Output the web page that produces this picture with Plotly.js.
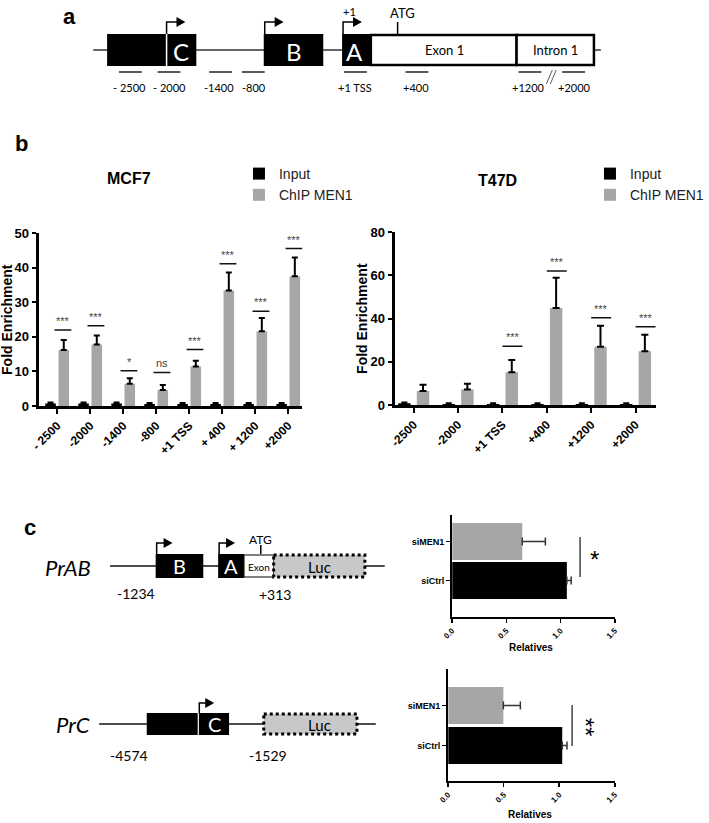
<!DOCTYPE html>
<html>
<head>
<meta charset="utf-8">
<script src="https://cdn.plot.ly/plotly-3.0.1.min.js"></script>
<style>
html,body{margin:0;padding:0;background:#fff;}
#chart{width:709px;height:823px;}
</style>
</head>
<body>
<div id="chart"></div>
<script>
// ---------- DATA ----------
const mcfCats = ['- 2500', '-2000', '-1400', '-800', '+1 TSS', '+ 400', '+ 1200', '+2000'];
const mcfInput = [0.7, 0.7, 0.7, 0.6, 0.6, 0.6, 0.6, 0.6];
const mcfInputErr = [0.3, 0.3, 0.3, 0.3, 0.3, 0.3, 0.3, 0.3];
const mcfChip = [16.2, 17.8, 6.4, 4.6, 11.4, 33.4, 21.6, 37.5];
const mcfChipErr = [2.9, 2.6, 1.6, 1.5, 1.7, 5.2, 3.8, 5.4];
const mcfSig = ['***', '***', '*', 'ns', '***', '***', '***', '***'];
const mcfSigY = [22.0, 23.2, 10.2, 9.7, 16.3, 41.1, 27.4, 45.5];

const t47Cats = ['-2500', '-2000', '+1 TSS', '+400', '+1200', '+2000'];
const t47Input = [0.8, 0.5, 0.5, 0.5, 0.5, 0.5];
const t47InputErr = [0.4, 0.3, 0.3, 0.3, 0.3, 0.3];
const t47Chip = [6.5, 7.2, 15.2, 44.9, 26.9, 24.9];
const t47ChipErr = [2.9, 2.6, 5.6, 14.0, 9.7, 7.6];
const t47Sig = ['', '', '***', '***', '***', '***'];
const t47SigY = [null, null, 27.2, 62.0, 40.3, 36.2];

const relCats = ['siCtrl', 'siMEN1'];
const prabVals = [1.058, 0.647];
const prabErr = [0.040, 0.213];
const prcVals = [1.027, 0.497];
const prcErr = [0.043, 0.153];

const posLabels = ['- 2500', '- 2000', '-1400', '-800', '+1 TSS', '+400', '+1200', '+2000'];

// ---------- HELPERS ----------
const W = 709, H = 823;
const fx = p => p / W;
const fy = p => 1 - p / H;
const GRAY = '#a6a6a6';
const ARIAL = 'Liberation Sans, Arial, sans-serif';
const CAL = 'Lato, Open Sans, sans-serif';

const traces = [];
// MCF7
traces.push({type:'bar', name:'Input', x:mcfCats, y:mcfInput, xaxis:'x', yaxis:'y',
  marker:{color:'#000', line:{width:0}}, width:0.32, offset:-0.36, legend:'legend',
  error_y:{type:'data', array:mcfInputErr, color:'#000', thickness:2, width:3}});
traces.push({type:'bar', name:'ChIP MEN1', x:mcfCats, y:mcfChip, xaxis:'x', yaxis:'y',
  marker:{color:GRAY, line:{width:0}}, width:0.32, offset:0.04, legend:'legend',
  error_y:{type:'data', symmetric:false, array:mcfChipErr, arrayminus:mcfChip.map(()=>0), color:'#000', thickness:2, width:3}});
// T47D
traces.push({type:'bar', name:'Input', x:t47Cats, y:t47Input, xaxis:'x2', yaxis:'y2',
  marker:{color:'#000', line:{width:0}}, width:0.28, offset:-0.35, legend:'legend2',
  error_y:{type:'data', array:t47InputErr, color:'#000', thickness:2, width:3}});
traces.push({type:'bar', name:'ChIP MEN1', x:t47Cats, y:t47Chip, xaxis:'x2', yaxis:'y2',
  marker:{color:GRAY, line:{width:0}}, width:0.28, offset:0.07, legend:'legend2',
  error_y:{type:'data', symmetric:false, array:t47ChipErr, arrayminus:t47Chip.map(()=>0), color:'#000', thickness:2, width:3.5}});
// PrAB luciferase
traces.push({type:'bar', orientation:'h', x:prabVals, y:relCats, xaxis:'x3', yaxis:'y3', showlegend:false,
  marker:{color:['#000', GRAY], line:{width:0}}, width:0.95,
  error_x:{type:'data', symmetric:false, array:prabErr, arrayminus:[0,0], color:'#333', thickness:1.5, width:4}});
// PrC luciferase
traces.push({type:'bar', orientation:'h', x:prcVals, y:relCats, xaxis:'x4', yaxis:'y4', showlegend:false,
  marker:{color:['#000', GRAY], line:{width:0}}, width:0.925,
  error_x:{type:'data', symmetric:false, array:prcErr, arrayminus:[0,0], color:'#333', thickness:1.5, width:4}});
// overlay (pixel) axes for schematic drawings
traces.push({type:'scatter', x:[], y:[], xaxis:'x5', yaxis:'y5', showlegend:false, hoverinfo:'skip'});

const shapes = [];
const annotations = [];

// significance bars
mcfSig.forEach((s, i) => {
  if (!s) return;
  shapes.push({type:'line', xref:'x', yref:'y', x0:i-0.08, x1:i+0.43, y0:mcfSigY[i], y1:mcfSigY[i], line:{color:'#111', width:1.5}});
  annotations.push({xref:'x', yref:'y', x:i+0.18, y:mcfSigY[i], text:s, showarrow:false, yanchor:'bottom', yshift:1,
    font:{family:ARIAL, size:s === 'ns' ? 11 : 11, color:'#444'}});
});
t47Sig.forEach((s, i) => {
  if (!s) return;
  shapes.push({type:'line', xref:'x2', yref:'y2', x0:i+0.0, x1:i+0.45, y0:t47SigY[i], y1:t47SigY[i], line:{color:'#111', width:1.5}});
  annotations.push({xref:'x2', yref:'y2', x:i+0.23, y:t47SigY[i], text:s, showarrow:false, yanchor:'bottom', yshift:1,
    font:{family:ARIAL, size:11, color:'#444'}});
});

// luciferase significance
shapes.push({type:'line', xref:'x3', yref:'y3', x0:1.18, x1:1.18, y0:0.09, y1:1.115, line:{color:'#444', width:1.5}});
annotations.push({xref:'x3', yref:'y3', x:1.31, y:0.55, text:'*', showarrow:false, font:{family:ARIAL, size:24, color:'#000'}});
shapes.push({type:'line', xref:'x4', yref:'y4', x0:1.116, x1:1.116, y0:-0.0125, y1:1.0125, line:{color:'#444', width:1.5}});
annotations.push({xref:'x4', yref:'y4', x:1.24, y:0.45, text:'**', textangle:90, showarrow:false, font:{family:ARIAL, size:24, color:'#000'}});

// ---------- SCHEMATICS (pixel overlay axis) ----------
const P = (o) => Object.assign({xref:'x5', yref:'y5', layer:'above'}, o);
const rect = (x0, x1, y0, y1, fill, line) => shapes.push(P({type:'rect', x0, x1, y0, y1, fillcolor:fill, line:line || {width:0}}));
const seg = (x0, y0, x1, y1, color, w) => shapes.push(P({type:'line', x0, y0, x1, y1, line:{color, width:w}}));
const txt = (x, y, text, size, color, extra) => annotations.push(Object.assign({xref:'x5', yref:'y5', x, y, text, showarrow:false,
  font:{family:CAL, size, color:color || '#000'}}, extra || {}));
const arrow = (x, yb, yt, len) => {
  shapes.push(P({type:'path', path:`M${x},${yb} V${yt} H${x+len}`, line:{color:'#000', width:1.5}}));
  shapes.push(P({type:'path', path:`M${x+len-1},${yt-5} L${x+len+8},${yt} L${x+len-1},${yt+5} Z`, fillcolor:'#000', line:{width:0}}));
};

// panel a
seg(94, 50, 606, 50, '#333', 1.5);
rect(108, 198, 34, 66, '#000');
seg(168, 34, 168, 66, '#fff', 1.5);
rect(266, 326, 34, 66, '#000');
rect(345, 374, 34, 66, '#000');
rect(374, 521, 35, 65, '#fff', {color:'#000', width:2.5});
rect(521, 599, 35, 65, '#fff', {color:'#000', width:2.5});
arrow(168, 34, 22, 11);
arrow(267, 34, 22, 11);
arrow(346, 34, 22, 11);
seg(401, 22, 401, 34, '#000', 1.5);
txt(352, 11, '+1', 11);
txt(406, 13, 'ATG', 13);
txt(183, 51, 'C', 24, '#fff');
txt(296, 51, 'B', 24, '#fff');
txt(358, 51, 'A', 24, '#fff');
txt(448, 50, 'Exon 1', 13);
txt(560, 50, 'Intron 1', 13);
const segX = [[120,143],[159,182],[211,234],[244,267],[347,370],[409,432],[523,546],[567,590]];
const labX = [131, 171, 221, 256, 358, 420, 533, 579];
segX.forEach((s, i) => { seg(s[0], 72, s[1], 72, '#222', 1.5); txt(labX[i], 87, posLabels[i], 11); });
seg(551, 84, 557, 70, '#333', 0.8);
seg(555, 84, 561, 70, '#333', 0.8);
txt(70, 16, 'a', 22, '#000', {font:{family:ARIAL, size:22, color:'#000', weight:'bold'}});
txt(22, 143, 'b', 22, '#000', {font:{family:ARIAL, size:22, color:'#000', weight:'bold'}});
txt(30, 527, 'c', 22, '#000', {font:{family:ARIAL, size:22, color:'#000', weight:'bold'}});

// panel c, PrAB
seg(111, 566, 388, 566, '#111', 1.5);
rect(157, 205, 554, 578, '#000');
rect(220, 246, 554, 578, '#000');
rect(246, 276, 555, 577, '#fff', {color:'#000', width:1.2});
rect(276, 368, 555, 577, '#c8c8c8', {color:'#000', width:3, dash:'dot'});
arrow(158, 554, 543, 8);
arrow(221, 554, 543, 8);
seg(263, 545, 263, 554, '#000', 1.5);
txt(263, 539, 'ATG', 12);
txt(181, 566, 'B', 20, '#fff');
txt(233, 566, 'A', 20, '#fff');
txt(261, 567, 'Exon', 10);
txt(322, 567, 'Luc', 15);
txt(137, 593, '-1234', 14);
txt(277, 594, '+313', 14);
txt(69, 567, '<i>PrAB</i>', 22);

// panel c, PrC
seg(100, 724, 379, 724, '#111', 1.5);
rect(148, 231, 713, 735, '#000');
seg(200, 713, 200, 735, '#fff', 1.2);
arrow(201, 713, 703, 7);
txt(216, 724, 'C', 20, '#fff');
rect(266, 360, 714, 734, '#c8c8c8', {color:'#000', width:3, dash:'dot'});
txt(322, 725, 'Luc', 15);
txt(74, 724, '<i>PrC</i>', 22);
txt(130, 755, '-4574', 14);
txt(270, 755, '-1529', 14);

// chart titles
const boldTxt = (x, y, text, size, extra) => annotations.push(Object.assign({xref:'x5', yref:'y5', x, y, text, showarrow:false,
  font:{family:ARIAL, size, color:'#000', weight:'bold'}}, extra || {}));
boldTxt(130, 178, 'MCF7', 16);
boldTxt(502, 180, 'T47D', 16);
boldTxt(7, 319, 'Fold Enrichment', 14, {textangle:-90});
boldTxt(365, 318, 'Fold Enrichment', 14, {textangle:-90});
boldTxt(536, 647, 'Relatives', 10);
boldTxt(535, 814, 'Relatives', 10);

// ---------- AXES ----------
const tickBold = (size) => ({family:ARIAL, size, color:'#000', weight:'bold'});
const baseAx = {showgrid:false, zeroline:false, showline:true, linecolor:'#000', ticks:'outside', tickcolor:'#000', fixedrange:true};

const layout = {
  width:W, height:H, margin:{l:0, r:0, t:0, b:0},
  paper_bgcolor:'#fff', plot_bgcolor:'rgba(0,0,0,0)',
  barmode:'overlay', showlegend:true,
  xaxis:Object.assign({}, baseAx, {domain:[fx(39), fx(305)], anchor:'y', type:'category', range:[-0.56, 7.43],
    linewidth:3, ticklen:5, tickwidth:2, tickangle:-45, tickfont:tickBold(12)}),
  yaxis:Object.assign({}, baseAx, {domain:[fy(406), fy(233)], anchor:'x', range:[0, 50], dtick:10,
    linewidth:3, ticklen:4, tickwidth:2, tickfont:tickBold(13)}),
  xaxis2:Object.assign({}, baseAx, {domain:[fx(398), fx(662)], anchor:'y2', type:'category', range:[-0.43, 5.47],
    linewidth:3, ticklen:5, tickwidth:2, tickangle:-45, tickfont:tickBold(12)}),
  yaxis2:Object.assign({}, baseAx, {domain:[fy(405), fy(232)], anchor:'x2', range:[0, 80], dtick:20,
    linewidth:3, ticklen:4, tickwidth:2, tickfont:tickBold(13)}),
  xaxis3:Object.assign({}, baseAx, {domain:[fx(456), fx(620)], anchor:'y3', range:[0, 1.5], dtick:0.5, tickformat:'.1f',
    linewidth:2, ticklen:4, tickwidth:1.5, tickangle:-45, tickfont:tickBold(8)}),
  yaxis3:Object.assign({}, baseAx, {domain:[fy(617), fy(515)], anchor:'x3', type:'category', categoryarray:relCats,
    range:[-0.936, 1.68], linewidth:2, ticklen:4, tickwidth:1.5, tickfont:tickBold(9)}),
  xaxis4:Object.assign({}, baseAx, {domain:[fx(452), fx(620)], anchor:'y4', range:[0, 1.5], dtick:0.5, tickformat:'.1f',
    linewidth:2, ticklen:4, tickwidth:1.5, tickangle:-45, tickfont:tickBold(8)}),
  yaxis4:Object.assign({}, baseAx, {domain:[fy(781), fy(669)], anchor:'x4', type:'category', categoryarray:relCats,
    range:[-0.8875, 1.9125], linewidth:2, ticklen:4, tickwidth:1.5, tickfont:tickBold(9)}),
  xaxis5:{domain:[0,1], range:[0, W], visible:false, fixedrange:true, anchor:'y5'},
  yaxis5:{domain:[0,1], range:[H, 0], visible:false, fixedrange:true, anchor:'x5'},
  legend:{x:fx(241), y:fy(158), xanchor:'left', yanchor:'top', bgcolor:'rgba(0,0,0,0)',
    font:{family:ARIAL, size:14, color:'#222'}, tracegroupgap:0, traceorder:'normal'},
  legend2:{x:fx(595), y:fy(158), xanchor:'left', yanchor:'top', bgcolor:'rgba(0,0,0,0)',
    font:{family:ARIAL, size:14, color:'#222'}, tracegroupgap:0, traceorder:'normal'},
  shapes, annotations
};

Plotly.newPlot('chart', traces, layout, {displayModeBar:false, staticPlot:true});
</script>
</body>
</html>
